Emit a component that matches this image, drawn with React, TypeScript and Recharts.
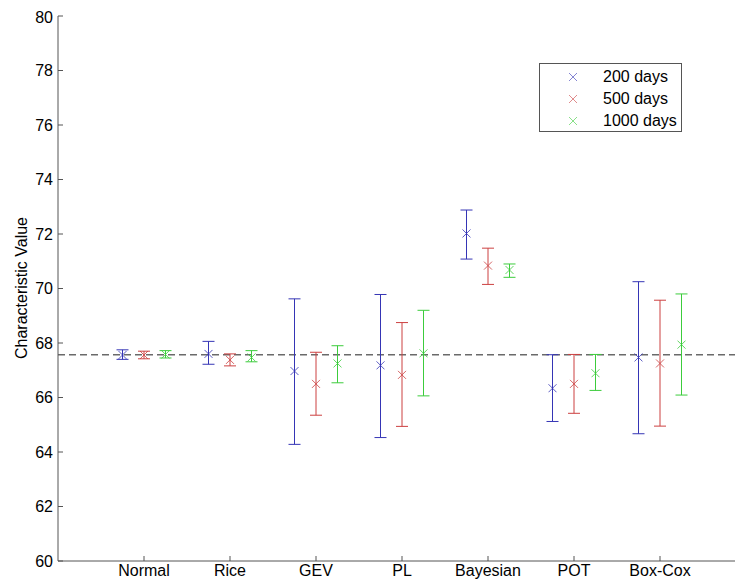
import React from "react";
import {
  ComposedChart,
  Scatter,
  ErrorBar,
  XAxis,
  YAxis,
  ReferenceLine,
} from "recharts";

const categories = ["Normal", "Rice", "GEV", "PL", "Bayesian", "POT", "Box-Cox"];
const yTicks = [60, 62, 64, 66, 68, 70, 72, 74, 76, 78, 80];
const baseline = 67.57;

const mean200 = [67.56, 67.6, 66.97, 67.18, 72.02, 66.34, 67.47];
const low200 = [67.4, 67.22, 64.28, 64.53, 71.08, 65.12, 64.67];
const high200 = [67.75, 68.06, 69.62, 69.78, 72.88, 67.57, 70.25];

const mean500 = [67.56, 67.38, 66.5, 66.83, 70.84, 66.5, 67.25];
const low500 = [67.42, 67.16, 65.35, 64.94, 70.15, 65.42, 64.95];
const high500 = [67.7, 67.6, 67.66, 68.75, 71.48, 67.58, 69.57];

const mean1000 = [67.58, 67.47, 67.25, 67.62, 70.68, 66.89, 67.94];
const low1000 = [67.45, 67.31, 66.54, 66.06, 70.41, 66.26, 66.09];
const high1000 = [67.72, 67.72, 67.9, 69.2, 70.9, 67.58, 69.8];

const FONT = "'Liberation Sans', Arial, sans-serif";
const AXIS = "#555";

const series = [
  { name: "200 days", offset: -0.25, color: "#3535b5", mean: mean200, low: low200, high: high200 },
  { name: "500 days", offset: 0, color: "#cc4040", mean: mean500, low: low500, high: high500 },
  { name: "1000 days", offset: 0.25, color: "#3ccc3c", mean: mean1000, low: low1000, high: high1000 },
];

function build(s: (typeof series)[number]) {
  return categories.map((c, i) => ({
    x: i + 1 + s.offset,
    y: s.mean[i],
    err: [s.mean[i] - s.low[i], s.high[i] - s.mean[i]],
  }));
}

const cross = (color: string) => (props: any) => {
  const { cx, cy } = props;
  const r = 4;
  return (
    <g stroke={color} strokeWidth={1} opacity={0.8}>
      <line x1={cx - r} y1={cy - r} x2={cx + r} y2={cy + r} />
      <line x1={cx - r} y1={cy + r} x2={cx + r} y2={cy - r} />
    </g>
  );
};

function LegendBox() {
  return (
    <div
      style={{
        position: "absolute",
        left: 531,
        top: 55,
        width: 141,
        height: 67,
        border: `1px solid ${AXIS}`,
        background: "#fff",
        fontFamily: FONT,
        fontSize: 16,
        color: "#000",
      }}
    >
      {series.map((s, i) => (
        <div key={s.name} style={{ position: "absolute", top: 13 + i * 22 - 9, left: 0, height: 18, width: 141 }}>
          <svg width={10} height={10} style={{ position: "absolute", left: 28, top: 4 }}>
            <g stroke={s.color} strokeWidth={1} opacity={0.6}>
              <line x1={1} y1={1} x2={9} y2={9} />
              <line x1={1} y1={9} x2={9} y2={1} />
            </g>
          </svg>
          <span style={{ position: "absolute", left: 63, top: 0, lineHeight: "18px" }}>{s.name}</span>
        </div>
      ))}
    </div>
  );
}

export default function App() {
  return (
    <div style={{ position: "relative", width: 735, height: 573, overflow: "hidden", background: "#fff" }}>
      <ComposedChart width={740} height={573} margin={{ top: 8, right: 2, bottom: 0, left: 0 }}>
        <XAxis
          xAxisId="b"
          type="number"
          dataKey="x"
          domain={[0, 8]}
          ticks={[1, 2, 3, 4, 5, 6, 7]}
          tickFormatter={(v: number) => categories[v - 1] ?? ""}
          height={20}
          allowDataOverflow
          stroke={AXIS}
          tickSize={-5}
          tickMargin={9}
          tick={{ fill: "#000", fontSize: 16, fontFamily: FONT }}
        />
        <XAxis
          xAxisId="t"
          orientation="top"
          type="number"
          domain={[0, 8]}
          ticks={[1, 2, 3, 4, 5, 6, 7]}
          height={0}
          stroke={AXIS}
          tickSize={-5}
          tick={false}
        />
        <YAxis
          yAxisId="l"
          type="number"
          domain={[60, 80]}
          ticks={yTicks}
          width={50}
          allowDataOverflow
          stroke={AXIS}
          tickSize={-5}
          tickMargin={10}
          tick={{ fill: "#000", fontSize: 16, fontFamily: FONT }}
          label={{
            content: () => (
              <text
                x={13.5}
                y={280}
                transform="rotate(-90 13.5 280)"
                textAnchor="middle"
                dominantBaseline="central"
                fontSize={16}
                fontFamily={FONT}
                fill="#000"
              >
                Characteristic Value
              </text>
            ),
          }}
        />
        <YAxis
          yAxisId="r"
          orientation="right"
          type="number"
          domain={[60, 80]}
          ticks={yTicks}
          width={0}
          stroke={AXIS}
          tickSize={-5}
          tick={false}
        />
        <ReferenceLine
          xAxisId="b"
          yAxisId="l"
          y={baseline}
          stroke="#6a6a6a"
          strokeWidth={1.5}
          strokeDasharray="7 4"
        />
        {series.map((s) => (
          <Scatter
            key={s.name}
            name={s.name}
            xAxisId="b"
            yAxisId="l"
            data={build(s)}
            dataKey="y"
            fill={s.color}
            shape={cross(s.color)}
            isAnimationActive={false}
          >
            <ErrorBar
              dataKey="err"
              direction="y"
              width={6}
              stroke={s.color}
              strokeWidth={1}
              isAnimationActive={false}
            />
          </Scatter>
        ))}
      </ComposedChart>
      <LegendBox />
    </div>
  );
}
